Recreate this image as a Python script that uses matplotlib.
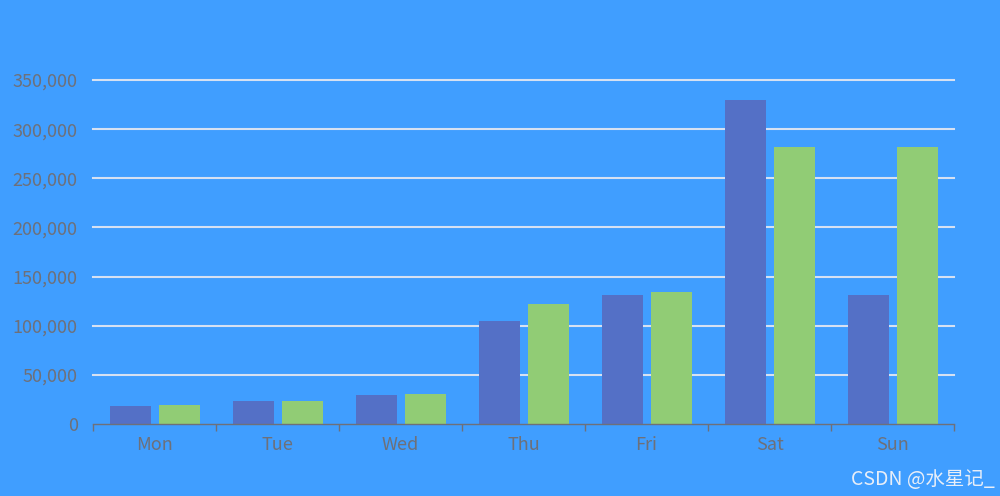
import matplotlib
matplotlib.use("Agg")
import matplotlib.pyplot as plt
import numpy as np

plt.rcParams['font.family'] = ['Noto Sans CJK SC', 'DejaVu Sans']

days = ["Mon", "Tue", "Wed", "Thu", "Fri", "Sat", "Sun"]
series_a = [18203, 23489, 29034, 104970, 131744, 330000, 131744]
series_b = [19325, 23438, 31000, 121594, 134141, 281807, 281807]
y_ticks = [0, 50000, 100000, 150000, 200000, 250000, 300000, 350000]

bg = "#409eff"
label_color = "#6e7079"

fig = plt.figure(figsize=(10, 4.96), dpi=100, facecolor=bg)
ax = fig.add_axes([0.093, 72 / 496, 0.861, 344 / 496])
ax.set_facecolor(bg)

x = np.arange(len(days))
w = 41 / 123
off = 24.5 / 123
ax.bar(x - off, series_a, width=w, color="#5470c6", zorder=3)
ax.bar(x + off, series_b, width=w, color="#91cc75", zorder=3)

ax.set_xlim(-0.5, len(days) - 0.5)
ax.set_ylim(0, 350000)
ax.set_yticks(y_ticks)
ax.set_yticklabels([f"{v:,}" for v in y_ticks])
# horizontal grid lines (no line at zero, the axis sits there)
for v in y_ticks[1:]:
    ax.axhline(v, color="#d6e1f2", lw=1.5, zorder=1, clip_on=False)

ax.set_xticks(x)
ax.set_xticklabels(days)
ax.set_xticks(np.arange(len(days) + 1) - 0.5, minor=True)
ax.tick_params(axis="x", which="major", length=0, pad=9, labelsize=13, labelcolor=label_color)
ax.tick_params(axis="x", which="minor", length=5, width=1, color=label_color)
ax.tick_params(axis="y", length=0, pad=11, labelsize=13, labelcolor=label_color)

for s in ["top", "right", "left"]:
    ax.spines[s].set_visible(False)
ax.spines["bottom"].set_color(label_color)
ax.spines["bottom"].set_linewidth(1)
ax.spines["bottom"].set_zorder(4)

fig.text(0.995, 0.012, "CSDN @水星记_", color="#e8eef8", fontsize=14, ha="right", va="bottom")

fig.savefig("out.png", dpi=100, facecolor=bg)
